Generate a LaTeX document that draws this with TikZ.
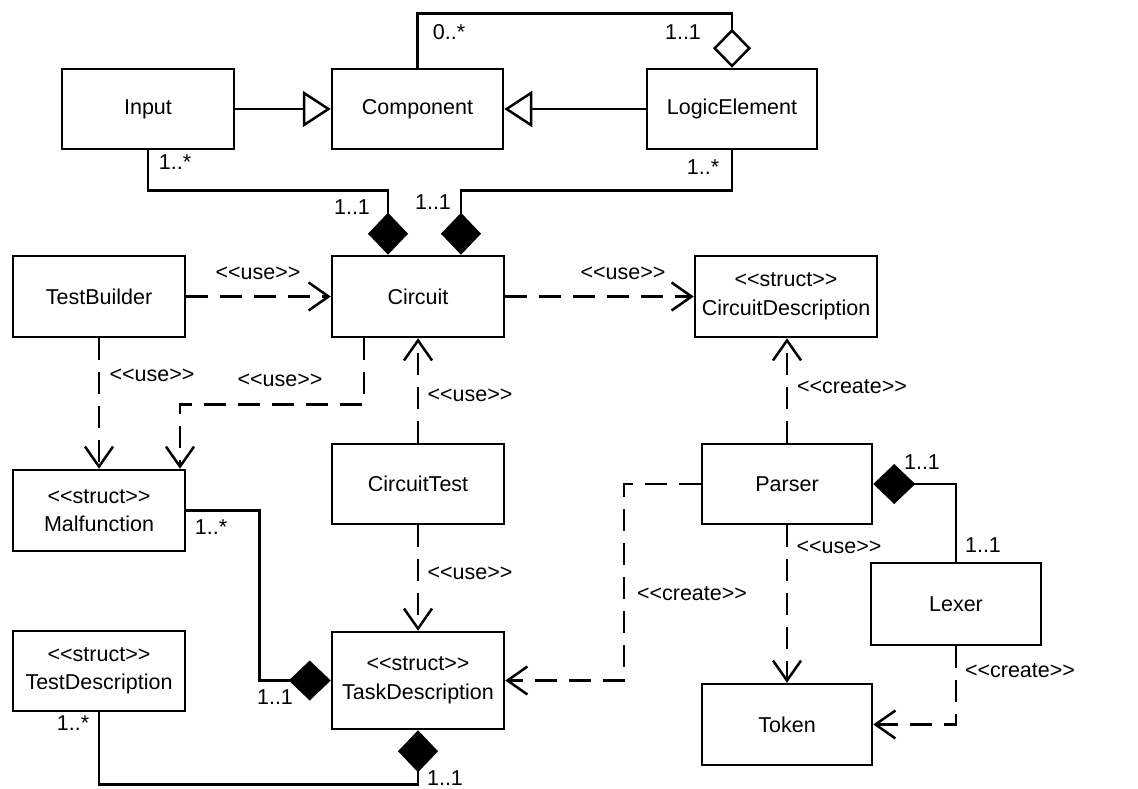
\documentclass[tikz,border=0pt]{standalone}
\usepackage{fontspec}
\setmainfont{Liberation Sans}
\usetikzlibrary{arrows.meta,calc}
\begin{document}
\begin{tikzpicture}[x=1pt,y=-1pt,
  every node/.style={font=\fontsize{21.5}{28.5}\selectfont},
  cls/.style={draw, line width=2.5pt, minimum width=172pt, minimum height=80pt, align=center, inner sep=0pt, fill=white},
  lbl/.style={inner sep=0pt},
  conn/.style={line width=2.5pt},
  gen/.style={conn, -{Triangle[open, length=28pt, width=36pt, fill=white]}},
  dep/.style={conn, dash pattern=on 22pt off 12pt, -{Straight Barb[length=20pt, width=28pt]}},
  comp/.style={conn, -{Diamond[length=42pt, width=40pt]}},
  agg/.style={conn, -{Diamond[open, length=39pt, width=38pt, fill=white]}}
]
\useasboundingbox (0,0) rectangle (1138,789);
% classes
\node[cls] (Input) at (148,109) {Input};
\node[cls, minimum width=171pt] (Component) at (417.5,109) {Component};
\node[cls, minimum width=170pt] (LogicElement) at (732,109) {LogicElement};
\node[cls, minimum height=81pt] (TestBuilder) at (99,296.5) {TestBuilder};
\node[cls, minimum height=81pt] (Circuit) at (418,296.5) {Circuit};
\node[cls, minimum width=182pt, minimum height=81pt] (CircuitDescription) at (786,296.5) {{<}{<}struct{>}{>}\\CircuitDescription};
\node[cls, minimum height=81pt] (Malfunction) at (99,510.5) {{<}{<}struct{>}{>}\\Malfunction};
\node[cls] (CircuitTest) at (418,484) {CircuitTest};
\node[cls, minimum width=170pt] (Parser) at (787,484) {Parser};
\node[cls, minimum width=170pt, minimum height=82pt] (Lexer) at (956,604) {Lexer};
\node[cls] (TestDescription) at (99,671) {{<}{<}struct{>}{>}\\TestDescription};
\node[cls, minimum height=97pt] (TaskDescription) at (418,680.5) {{<}{<}struct{>}{>}\\TaskDescription};
\node[cls, minimum width=170pt, minimum height=81pt] (Token) at (787,724.5) {Token};

% generalizations
\draw[gen] (Input) -- (Component);
\draw[gen] (LogicElement) -- (Component);
% aggregation Component - LogicElement
\draw[agg] (Component.north) -- ++(0,-54) -| (LogicElement.north);
\node[lbl] (m1) at (449,32) {0..*};
\node[lbl] (m2) at (683,32) {1..1};
% compositions into Circuit
\draw[comp] (Input.south) -- ++(0,40) -| ([xshift=-30pt]Circuit.north);
\node[lbl] (m3) at (175,162) {1..*};
\node[lbl] (m4) at (352,207) {1..1};
\draw[comp] (LogicElement.south) -- ++(0,40) -| ([xshift=43pt]Circuit.north);
\node[lbl] (m5) at (703,167) {1..*};
\node[lbl] (m6) at (433,202) {1..1};
% dependencies
\draw[dep] (TestBuilder) -- (Circuit);
\node[lbl] (u1) at (258,273) {{<}{<}use{>}{>}};
\draw[dep] (TestBuilder.south) -- (Malfunction.north);
\node[lbl] (u2) at (152,375) {{<}{<}use{>}{>}};
\draw[dep] ([xshift=-54pt]Circuit.south) -- ++(0,66) -| ([xshift=81pt]Malfunction.north);
\node[lbl] (u3) at (280,380) {{<}{<}use{>}{>}};
\draw[dep] (CircuitTest.north) -- (Circuit.south);
\node[lbl] (u4) at (470,395) {{<}{<}use{>}{>}};
\draw[dep] (Circuit) -- (CircuitDescription);
\node[lbl] (u5) at (623,273) {{<}{<}use{>}{>}};
\draw[dep] (Parser.north) -- (Parser.north |- CircuitDescription.south);
\node[lbl] (c1) at (852,387) {{<}{<}create{>}{>}};
\draw[comp] (Lexer.north) |- (Parser.east);
\node[lbl] (m7) at (922,462) {1..1};
\node[lbl] (m8) at (983,545) {1..1};
\draw[dep] (Parser.west) -- ++(-77,0) |- (TaskDescription.east);
\node[lbl] (c2) at (692,594) {{<}{<}create{>}{>}};
\draw[dep] (Parser.south) -- (Token.north);
\node[lbl] (u6) at (839,547) {{<}{<}use{>}{>}};
\draw[dep] (Lexer.south) |- (Token.east);
\node[lbl] (c3) at (1020,671) {{<}{<}create{>}{>}};
\draw[dep] (CircuitTest.south) -- (TaskDescription.north);
\node[lbl] (u7) at (470,573) {{<}{<}use{>}{>}};
% compositions into TaskDescription
\draw[comp] (Malfunction.east) -- ++(73,0) |- (TaskDescription.west);
\node[lbl] (m9) at (211,527) {1..*};
\node[lbl] (m10) at (275,697) {1..1};
\draw[comp] (TestDescription.south) -- ++(0,72) -| (TaskDescription.south);
\node[lbl] (m11) at (73,723) {1..*};
\node[lbl] (m12) at (445,778) {1..1};
\end{tikzpicture}
\end{document}
